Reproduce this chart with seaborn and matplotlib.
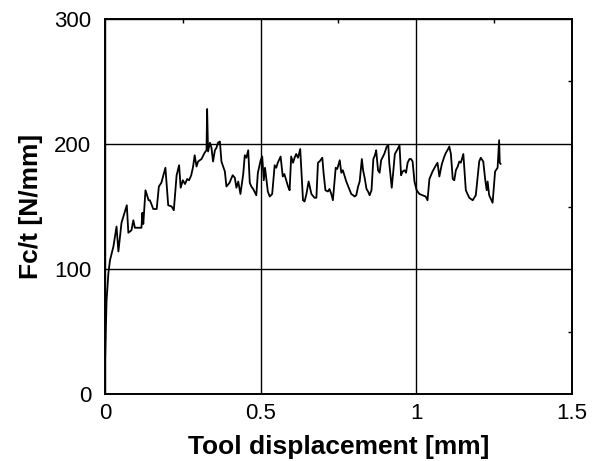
import pandas as pd
import matplotlib.pyplot as plt
import seaborn as sns

# tool displacement [mm] and cutting force per thickness [N/mm]
displacement = [
    0.0, 0.0, 0.005, 0.011, 0.016, 0.027, 0.037, 0.043, 0.053, 0.07, 0.075,
    0.085, 0.091, 0.096, 0.107, 0.117, 0.12, 0.123, 0.13, 0.14, 0.144, 0.149,
    0.155, 0.166, 0.173, 0.181, 0.194, 0.203, 0.214, 0.221, 0.23, 0.238, 0.243,
    0.25, 0.257, 0.264, 0.27, 0.277, 0.283, 0.288, 0.294, 0.299, 0.31, 0.32,
    0.326, 0.328, 0.331, 0.337, 0.342, 0.347, 0.353, 0.358, 0.363, 0.369,
    0.374, 0.385, 0.39, 0.4, 0.41, 0.417, 0.422, 0.428, 0.435, 0.444, 0.449,
    0.454, 0.46, 0.465, 0.47, 0.476, 0.486, 0.491, 0.5, 0.505, 0.51, 0.514,
    0.523, 0.529, 0.537, 0.545, 0.55, 0.555, 0.564, 0.571, 0.576, 0.588,
    0.593, 0.598, 0.604, 0.609, 0.614, 0.62, 0.627, 0.636, 0.641, 0.647,
    0.654, 0.663, 0.673, 0.679, 0.684, 0.689, 0.698, 0.702, 0.708, 0.716,
    0.721, 0.727, 0.732, 0.741, 0.746, 0.754, 0.759, 0.764, 0.775, 0.786,
    0.791, 0.797, 0.802, 0.807, 0.813, 0.818, 0.825, 0.829, 0.834, 0.84,
    0.845, 0.85, 0.856, 0.862, 0.867, 0.871, 0.877, 0.882, 0.887, 0.897,
    0.905, 0.91, 0.913, 0.921, 0.926, 0.931, 0.94, 0.946, 0.951, 0.956,
    0.962, 0.967, 0.972, 0.978, 0.983, 0.988, 0.994, 1.001, 1.01, 1.02,
    1.03, 1.036, 1.042, 1.052, 1.063, 1.068, 1.074, 1.082, 1.09, 1.095,
    1.1, 1.106, 1.111, 1.117, 1.122, 1.127, 1.133, 1.138, 1.143, 1.151,
    1.159, 1.17, 1.181, 1.191, 1.202, 1.207, 1.215, 1.221, 1.226, 1.229,
    1.234, 1.245, 1.253, 1.261, 1.266, 1.268, 1.271,
]
force = [
    1, 49, 75, 97, 107, 118, 134, 114, 137, 151, 129,
    131, 139, 133, 133, 133, 145, 136, 163, 155, 155, 152,
    148, 148, 166, 169, 181, 151, 150, 147, 175, 183, 165,
    171, 168, 172, 171, 175, 182, 191, 182, 186, 188, 193,
    195, 228, 194, 201, 197, 186, 195, 197, 201, 202,
    186, 178, 166, 169, 175, 173, 165, 170, 160, 176, 191,
    189, 195, 169, 166, 164, 159, 177, 187, 190, 171, 181,
    162, 158, 160, 183, 181, 185, 190, 174, 176, 166,
    163, 190, 185, 189, 192, 189, 196, 155, 154, 160,
    170, 160, 157, 157, 185, 186, 189, 177, 163, 162,
    164, 160, 155, 181, 180, 187, 177, 179, 170, 163,
    160, 159, 158, 159, 166, 170, 188, 179, 173, 164,
    162, 159, 163, 188, 191, 195, 179, 177, 187, 192,
    198, 199, 185, 165, 178, 192, 196, 199, 175, 178,
    179, 177, 185, 188, 188, 186, 170, 163, 160, 159,
    158, 155, 172, 178, 183, 185, 174, 184, 190, 193,
    195, 198, 192, 172, 171, 179, 182, 186, 185, 192,
    163, 157, 155, 159, 186, 189, 186, 172, 163, 170,
    159, 153, 178, 181, 203, 185, 184,
]

x_ticks = [0, 0.5, 1, 1.5]
x_labels = ["0", "0.5", "1", "1.5"]
x_minor = [0.25, 0.75, 1.25]
y_ticks = [0, 100, 200, 300]
y_labels = ["0", "100", "200", "300"]
y_minor = [50, 150, 250]

df = pd.DataFrame({"displacement": displacement, "force": force})

sns.set_style("white")
plt.rcParams["font.family"] = ["Liberation Sans", "DejaVu Sans"]
plt.rcParams["text.color"] = "black"
plt.rcParams["axes.labelcolor"] = "black"
plt.rcParams["xtick.color"] = "black"
plt.rcParams["ytick.color"] = "black"

fig = plt.figure(figsize=(5.98, 4.61), dpi=100)
ax = fig.add_axes([0.1756, 0.1453, 0.7809, 0.8135])

sns.lineplot(data=df, x="displacement", y="force", sort=False,
             color="black", linewidth=1.3, ax=ax)

ax.set_xlim(0, 1.5)
ax.set_ylim(0, 300)
ax.set_xticks(x_ticks, x_labels)
ax.set_yticks(y_ticks, y_labels)
ax.set_xticks(x_minor, minor=True)
ax.set_yticks(y_minor, minor=True)
ax.grid(True, which="major", color="black", linewidth=1.0)
ax.tick_params(which="both", direction="in", top=True, right=True,
               labelsize=16, color="black", labelcolor="black")
ax.tick_params(which="major", length=0)
ax.tick_params(axis="x", which="major", pad=6.5)
ax.tick_params(axis="y", which="major", pad=10)
ax.tick_params(which="minor", length=3, width=1)
for s in ax.spines.values():
    s.set_color("black")
    s.set_linewidth(1.4)

ax.set_xlabel("Tool displacement [mm]", fontsize=19, fontweight="bold",
              labelpad=8, color="black")
ax.set_ylabel("Fc/t [N/mm]", fontsize=19, fontweight="bold",
              labelpad=8, color="black")

fig.savefig("out.png", dpi=100)
